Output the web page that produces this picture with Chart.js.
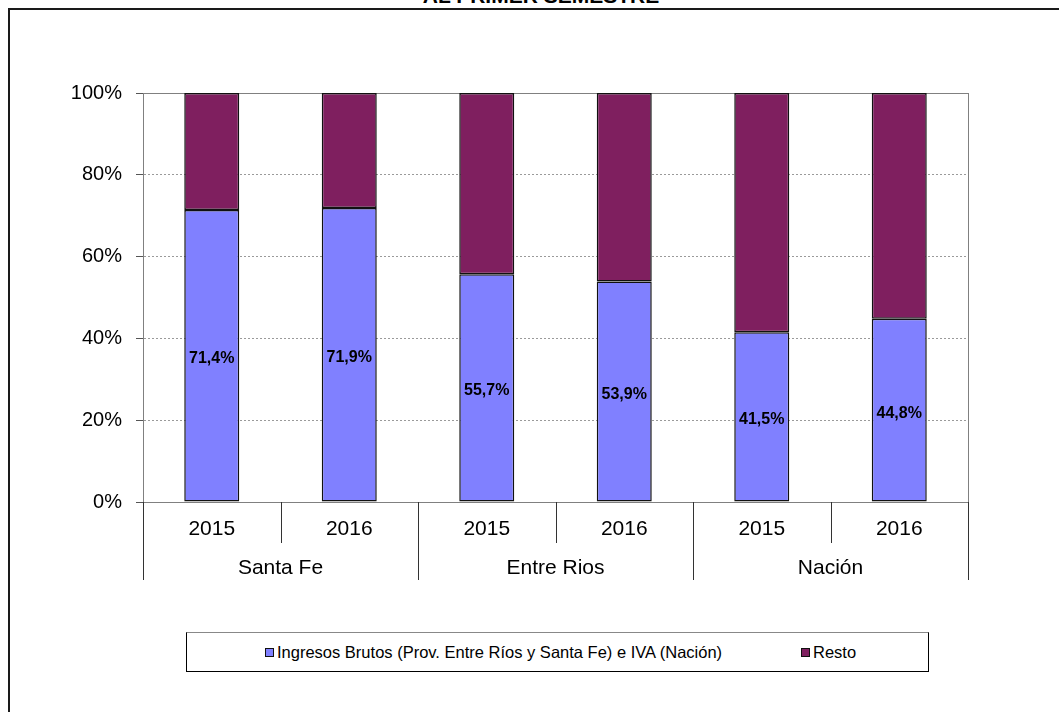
<!DOCTYPE html>
<html><head><meta charset="utf-8">
<script src="https://cdn.jsdelivr.net/npm/chart.js@4.4.0/dist/chart.umd.min.js"></script>
<style>
html,body{margin:0;padding:0;width:1059px;height:712px;overflow:hidden;background:#fff;font-family:"Liberation Sans",Arial,sans-serif;}
#frame{position:absolute;left:8px;top:8px;width:1200px;height:800px;border:2px solid #1a1a1a;}
#title{position:absolute;left:0;width:1082px;top:-15px;text-align:center;font-weight:bold;font-size:21px;line-height:21px;white-space:nowrap;color:#000;}
#wrap{position:absolute;left:0;top:0;width:1059px;height:712px;}
#legend{position:absolute;left:186px;top:632px;width:741px;height:38px;border:1px solid #000;border-top-color:#888;background:#fff;}
.item{position:absolute;top:0;height:38px;line-height:38px;font-size:16.5px;color:#000;white-space:nowrap}
.sw{display:inline-block;width:7px;height:7px;border:1.5px solid #111;margin-right:3px;vertical-align:middle;position:relative;top:-1px;}
</style></head><body>
<div id="frame"></div>
<div id="title">AL PRIMER SEMESTRE</div>
<div id="wrap"><canvas id="c"></canvas></div>
<div id="legend">
  <div class="item" style="left:78px"><span class="sw" style="background:#8080FF"></span>Ingresos Brutos (Prov. Entre Ríos y Santa Fe) e IVA (Nación)</div>
  <div class="item" style="left:614px"><span class="sw" style="background:#7F1F5F"></span>Resto</div>
</div>
<script>
const categories = ['2015','2016','2015','2016','2015','2016'];
const groups = ['Santa Fe','Entre Rios','Nación'];
const ingresos = [71.4, 71.9, 55.7, 53.9, 41.5, 44.8];
const resto = [28.6, 28.1, 44.3, 46.1, 58.5, 55.2];
const yTicks = [0, 20, 40, 60, 80, 100];
const FONT = '"Liberation Sans", Arial, sans-serif';

const sepPlugin = {
  id: 'seps',
  beforeDatasetsDraw(chart) {
    const {ctx, chartArea: a} = chart;
    ctx.save();
    ctx.strokeStyle = '#808080';
    ctx.lineWidth = 1;
    ctx.strokeRect(Math.round(a.left) + 0.5, Math.round(a.top) + 0.5, Math.round(a.right - a.left), Math.round(a.bottom - a.top));
    ctx.restore();
  },
  afterDatasetsDraw(chart) {
    const {ctx} = chart;
    const meta = chart.getDatasetMeta(0);
    ctx.save();
    ctx.font = 'bold 16px ' + FONT;
    ctx.fillStyle = '#000';
    ctx.textAlign = 'center';
    ctx.textBaseline = 'middle';
    meta.data.forEach((el, i) => {
      const txt = ingresos[i].toFixed(1).replace('.', ',') + '%';
      ctx.fillText(txt, el.x, (el.y + el.base) / 2 + 3);
    });
    ctx.restore();
  },
  afterDraw(chart) {
    const {ctx} = chart;
    const xs = chart.scales.x, x2 = chart.scales.x2;
    const half = (xs.getPixelForValue(1) - xs.getPixelForValue(0)) / 2;
    ctx.save();
    ctx.strokeStyle = '#333';
    ctx.lineWidth = 1;
    for (let i = 0; i <= categories.length; i++) {
      const px = Math.round(i < categories.length ? xs.getPixelForValue(i) - half : xs.getPixelForValue(i - 1) + half) + 0.5;
      const bottom = (i % 2 === 0) ? x2.bottom : xs.bottom;
      ctx.beginPath();
      ctx.moveTo(px, xs.top);
      ctx.lineTo(px, bottom);
      ctx.stroke();
    }
    ctx.restore();
  }
};

new Chart(document.getElementById('c'), {
  type: 'bar',
  data: {
    labels: categories,
    datasets: [
      {label: 'Ingresos Brutos (Prov. Entre Ríos y Santa Fe) e IVA (Nación)', data: ingresos, backgroundColor: '#8080FF', borderColor: '#111', borderWidth: 1.5, borderSkipped: false, barPercentage: 0.4, categoryPercentage: 1},
      {label: 'Resto', data: resto, backgroundColor: '#7F1F5F', borderColor: '#111', borderWidth: 1.5, borderSkipped: false, barPercentage: 0.4, categoryPercentage: 1}
    ]
  },
  options: {
    responsive: true,
    maintainAspectRatio: false,
    animation: false,
    layout: {padding: {left: 0, top: 93, right: 91, bottom: 132}},
    plugins: {legend: {display: false}, tooltip: {enabled: false}, title: {display: false}},
    scales: {
      x: {
        stacked: true, offset: true,
        grid: {display: false},
        border: {display: true, color: '#000', width: 1},
        ticks: {font: {size: 21, family: FONT}, color: '#000', padding: 7, maxRotation: 0, autoSkip: false},
        afterFit(s) { s.height = 41; }
      },
      x2: {
        type: 'category', labels: groups, position: 'bottom', weight: 1, offset: true,
        grid: {display: false},
        border: {display: false},
        ticks: {font: {size: 21, family: FONT}, color: '#000', padding: 5, maxRotation: 0, autoSkip: false},
        afterFit(s) { s.height = 37; }
      },
      y: {
        stacked: true, min: 0, max: 100,
        afterBuildTicks(s) { s.ticks = yTicks.map(v => ({value: v})); },
        ticks: {callback: v => v + '%', font: {size: 20, family: FONT}, color: '#000', padding: 14},
        grid: {color: '#9a9a9a', tickColor: '#555', tickLength: 7, tickBorderDash: []},
        border: {display: true, color: '#808080', dash: [2, 2]},
        afterFit(s) { s.width = 143; }
      }
    }
  },
  plugins: [sepPlugin]
});
</script>
</body></html>
